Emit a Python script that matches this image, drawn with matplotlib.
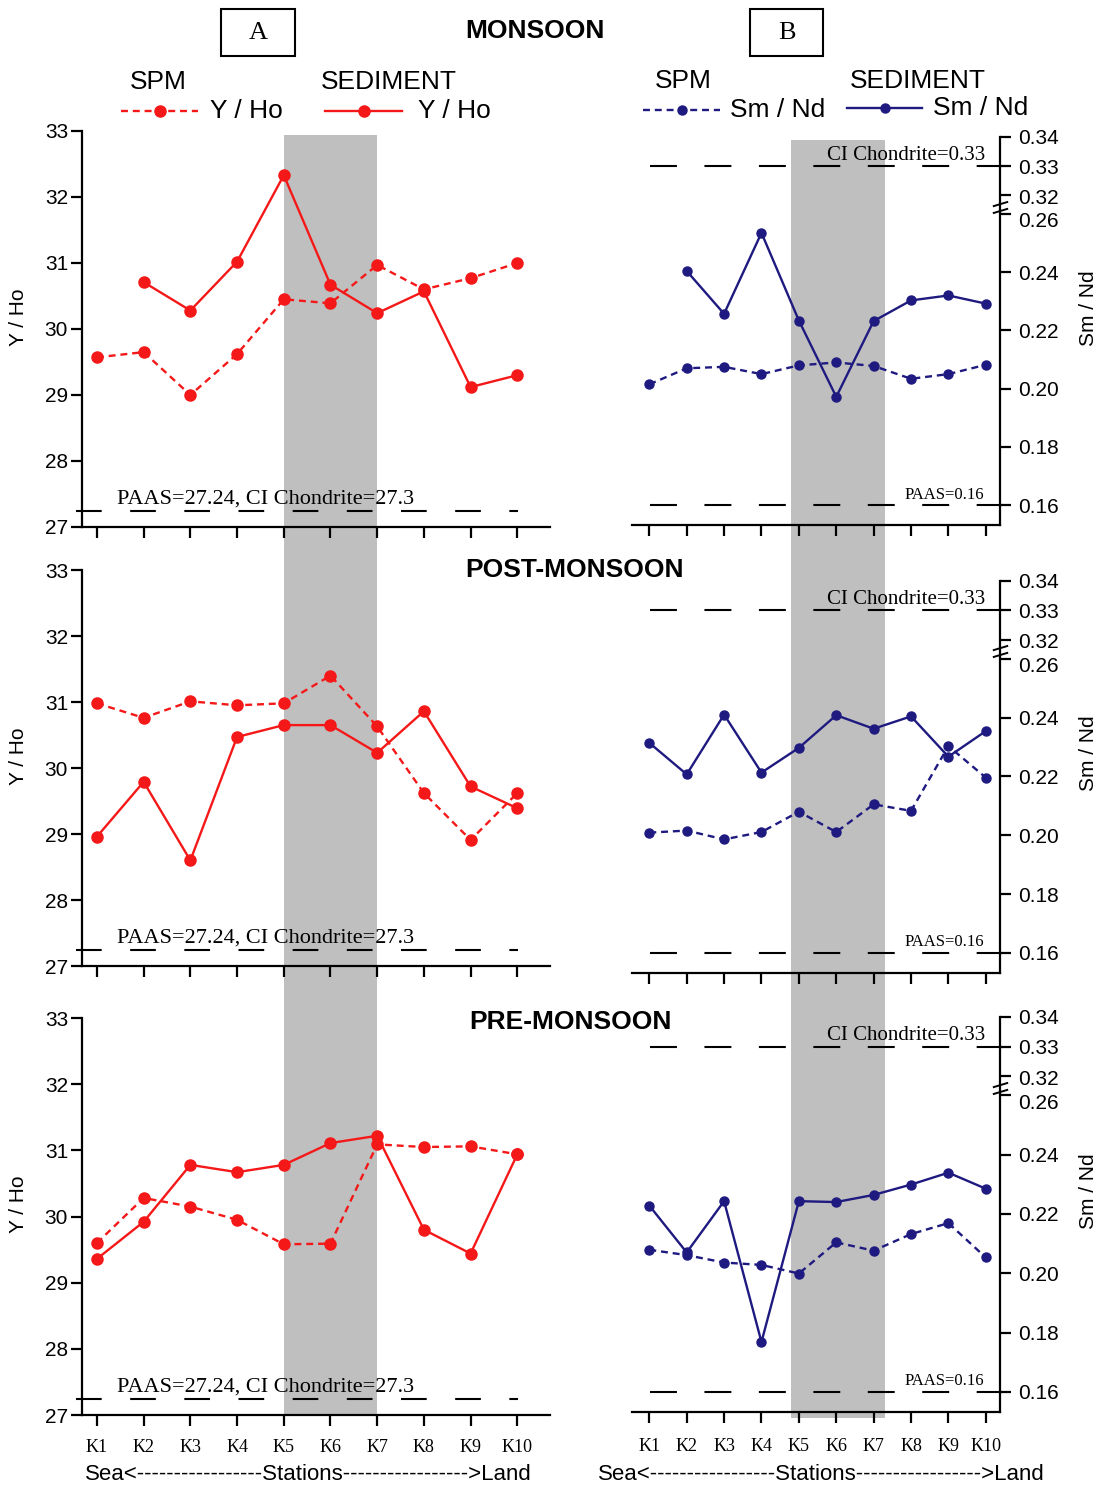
import numpy as np
import matplotlib.pyplot as plt
from matplotlib.lines import Line2D
from matplotlib.patches import Rectangle
from matplotlib.path import Path
from matplotlib.transforms import blended_transform_factory, offset_copy

plt.rcParams['font.family'] = 'Liberation Sans'
plt.rcParams['lines.scale_dashes'] = False

W, H = 1103, 1487

# ---- data ----
stations = ['K1', 'K2', 'K3', 'K4', 'K5', 'K6', 'K7', 'K8', 'K9', 'K10']
seasons = ['MONSOON', 'POST-MONSOON', 'PRE-MONSOON']

yho_spm_mon = [29.57, 29.65, 29.00, 29.62, 30.45, 30.39, 30.97, 30.60, 30.77, 31.00]
yho_sed_mon = [np.nan, 30.71, 30.28, 31.02, 32.33, 30.67, 30.24, 30.57, 29.12, 29.30]
yho_spm_post = [30.98, 30.76, 31.01, 30.95, 30.98, 31.40, 30.63, 29.62, 28.91, 29.62]
yho_sed_post = [28.96, 29.79, 28.60, 30.47, 30.65, 30.65, 30.23, 30.86, 29.72, 29.39]
yho_spm_pre = [29.60, 30.28, 30.15, 29.95, 29.58, 29.59, 31.09, 31.05, 31.06, 30.94]
yho_sed_pre = [29.36, 29.92, 30.78, 30.67, 30.78, 31.11, 31.22, 29.80, 29.44, 30.94]

smnd_spm_mon = [0.2015, 0.2070, 0.2075, 0.2050, 0.2080, 0.2090, 0.2078, 0.2034, 0.2050, 0.2082]
smnd_sed_mon = [np.nan, 0.2404, 0.2257, 0.2535, 0.2234, 0.1972, 0.2232, 0.2303, 0.2320, 0.2292]
smnd_spm_post = [0.2009, 0.2016, 0.1986, 0.2011, 0.2080, 0.2011, 0.2105, 0.2083, 0.2303, 0.2196]
smnd_sed_post = [0.2314, 0.2207, 0.2410, 0.2213, 0.2297, 0.2408, 0.2362, 0.2404, 0.2267, 0.2354]
smnd_spm_pre = [0.2079, 0.2061, 0.2036, 0.2028, 0.1999, 0.2104, 0.2076, 0.2132, 0.2169, 0.2053]
smnd_sed_pre = [0.2228, 0.2070, 0.2243, 0.1768, 0.2243, 0.2240, 0.2264, 0.2299, 0.2339, 0.2285]

yho_spm = [yho_spm_mon, yho_spm_post, yho_spm_pre]
yho_sed = [yho_sed_mon, yho_sed_post, yho_sed_pre]
smnd_spm = [smnd_spm_mon, smnd_spm_post, smnd_spm_pre]
smnd_sed = [smnd_sed_mon, smnd_sed_post, smnd_sed_pre]

paas_yho = 27.24
paas_smnd = 0.16
chondrite_smnd = 0.33
yho_ticks = [27, 28, 29, 30, 31, 32, 33]
smnd_ticks = [0.16, 0.18, 0.20, 0.22, 0.24, 0.26, 0.32, 0.33, 0.34]

x = np.arange(1, len(stations) + 1)

RED = '#f51818'
NAVY = '#1e1a80'
GRAY = '#bfbfbf'

# broken Sm/Nd axis: 0.26 .. 0.32 squeezed into a small gap
GAP = 0.0064


def fwd(y):
    y = np.asarray(y, dtype=float)
    return np.where(y <= 0.26, y,
                    np.where(y >= 0.32, y - 0.32 + 0.26 + GAP,
                             0.26 + (y - 0.26) * GAP / 0.06))


def inv(v):
    v = np.asarray(v, dtype=float)
    return np.where(v <= 0.26, v,
                    np.where(v >= 0.26 + GAP, v - 0.26 - GAP + 0.32,
                             0.26 + (v - 0.26) * 0.06 / GAP))


fig = plt.figure(figsize=(W / 100, H / 100), dpi=100)


def fx(px):
    return px / W


def fy(py):
    return 1 - py / H


def px_axes(l, t, r, b):
    return fig.add_axes([l / W, 1 - b / H, (r - l) / W, (b - t) / H])


rows_a = [(131, 527), (570, 966), (1018, 1415)]
rows_b = [(137, 525), (581, 973), (1017, 1412)]
axes_a, axes_b = [], []

# --- column A: Y / Ho ---
for i, (top, bot) in enumerate(rows_a):
    ax = px_axes(82, top, 550, bot)
    ax.set_facecolor('none')
    ax.set_xlim(0.68, 10.7)
    ax.set_ylim(27, 33)
    for s in ['top', 'right']:
        ax.spines[s].set_visible(False)
    for s in ['left', 'bottom']:
        ax.spines[s].set_linewidth(1.6)
    ax.tick_params(direction='out', length=8, width=1.6, labelsize=15, pad=2)
    ax.tick_params(axis='x', pad=9)
    ax.set_xticks(x)
    if i == 2:
        ax.set_xticklabels(stations, fontfamily='Liberation Serif', fontsize=13)
    else:
        ax.set_xticklabels([])
    ax.set_yticks(yho_ticks)
    ax.plot([0.55, 10.02], [paas_yho, paas_yho], color='k', lw=1.5,
            dashes=(18.5, 20.5), clip_on=False, zorder=2)
    ax.plot(x, yho_spm[i], color=RED, lw=1.7, ls=(0, (5, 3.5)),
            marker='o', ms=8, zorder=3)
    ax.plot(x, yho_sed[i], color=RED, lw=1.7, marker='o', ms=8, zorder=3)
    ax.text(1.43, 27.42, 'PAAS=27.24, CI Chondrite=27.3',
            family='Liberation Serif', fontsize=16, va='center', zorder=4)
    ax.set_ylabel('Y / Ho', fontsize=15)
    ax.yaxis.set_label_coords(-0.115, 0.53)
    axes_a.append(ax)

# --- column B: Sm / Nd ---
break_marker = Path([(-1, -0.75), (1, -0.15), (-1, 0.15), (1, 0.75)],
                    [Path.MOVETO, Path.LINETO, Path.MOVETO, Path.LINETO])
for i, (top, bot) in enumerate(rows_b):
    ax = px_axes(632, top, 1000, bot)
    ax.set_facecolor('none')
    ax.set_yscale('function', functions=(fwd, inv))
    ax.set_xlim(0.537, 10.38)
    ax.set_ylim(0.1532, 0.34)
    for s in ['top', 'left']:
        ax.spines[s].set_visible(False)
    for s in ['right', 'bottom']:
        ax.spines[s].set_linewidth(1.6)
    ax.yaxis.tick_right()
    ax.yaxis.set_label_position('right')
    ax.tick_params(direction='out', length=8, width=1.6, labelsize=15, pad=5)
    ax.tick_params(axis='x', pad=11)
    ax.set_xticks(x)
    if i == 2:
        ax.set_xticklabels(stations, fontfamily='Liberation Serif', fontsize=13)
    else:
        ax.set_xticklabels([])
    ax.set_yticks(smnd_ticks)
    # 0.26 and 0.32 labels are spread a little apart by hand around the break
    ax.set_yticklabels(['' if t in (0.26, 0.32) else f'{t:.2f}' for t in smnd_ticks])
    ax.minorticks_off()
    tb = blended_transform_factory(ax.transAxes, ax.transData)
    for t, dy in ((0.26, -8), (0.32, -3)):
        ax.text(1.0, t, f'{t:.2f}', fontsize=15, ha='left', va='center',
                transform=offset_copy(tb, fig, x=18, y=dy, units='dots'))
    for ref in (chondrite_smnd, paas_smnd):
        ax.plot([1.02, 10.45], [ref, ref], color='k', lw=1.5,
                dashes=(19.4, 19.8), clip_on=False, zorder=2)
    ax.plot(x, smnd_spm[i], color=NAVY, lw=1.7, ls=(0, (5, 3.5)),
            marker='o', ms=6.5, zorder=3)
    ax.plot(x, smnd_sed[i], color=NAVY, lw=1.7, marker='o', ms=6.5, zorder=3)
    ax.text(9.98, 0.3338, 'CI Chondrite=0.33', family='Liberation Serif',
            fontsize=15, ha='right', va='center', zorder=4)
    ax.text(9.95, 0.1636, 'PAAS=0.16', family='Liberation Serif',
            fontsize=12, ha='right', va='center', zorder=4)
    ax.plot([1.0], [0.283], transform=tb, marker=break_marker, ms=11,
            mec='k', mfc='none', mew=1.4, clip_on=False, zorder=5)
    ax.set_ylabel('Sm / Nd', fontsize=15)
    ax.yaxis.set_label_coords(1.215, 0.56)
    axes_b.append(ax)


# --- gray band across the three rows ---
def add_band(ax, x0, x1, top_px, bot_px):
    inv_fig = fig.transFigure.inverted()
    yref = ax.get_ylim()[0]
    f0 = inv_fig.transform(ax.transData.transform((x0, yref)))[0]
    f1 = inv_fig.transform(ax.transData.transform((x1, yref)))[0]
    fig.add_artist(Rectangle((f0, fy(bot_px)), f1 - f0, (bot_px - top_px) / H,
                             transform=fig.transFigure, facecolor=GRAY,
                             edgecolor='none', zorder=-1))


add_band(axes_a[0], 5, 7, 135, 1415)
add_band(axes_b[0], 4.78, 7.3, 140, 1418)

# --- titles and panel boxes ---
title_pos = [(535, 31), (575, 570), (570, 1022)]
for name, (tx, ty) in zip(seasons, title_pos):
    fig.text(fx(tx), fy(ty), name, fontsize=19, fontweight='bold',
             ha='center', va='center')

for label, (l, r) in zip(['A', 'B'], [(221, 295), (750, 823)]):
    fig.add_artist(Rectangle((fx(l), fy(56)), (r - l) / W, 47 / H,
                             transform=fig.transFigure, facecolor='none',
                             edgecolor='k', lw=1.5))
    fig.text(fx((l + r) / 2), fy(33), label, family='Liberation Serif',
             fontsize=19, ha='center', va='center')

# --- hand-made legends ---
legend_items = [
    (158, 389, 82, 121, 198, 111, 210, 325, 402, 111, 418, RED, 'Y / Ho', 8),
    (683, 918, 81, 643, 720, 110, 730, 847, 922, 108, 933, NAVY, 'Sm / Nd', 6.5),
]
for (spm_x, sed_x, head_y, d0, d1, dy, dtx, s0, s1, sy, stx,
     col, lab, ms) in legend_items:
    fig.text(fx(spm_x), fy(head_y), 'SPM', fontsize=19, ha='center', va='center')
    fig.text(fx(sed_x), fy(head_y), 'SEDIMENT', fontsize=19, ha='center', va='center')
    fig.add_artist(Line2D([fx(d0), fx(d1)], [fy(dy), fy(dy)], color=col, lw=1.7,
                          ls=(0, (5, 3.5)), transform=fig.transFigure))
    fig.add_artist(Line2D([fx((d0 + d1) / 2)], [fy(dy)], color=col, marker='o',
                          ms=ms, transform=fig.transFigure))
    fig.text(fx(dtx), fy(dy), lab, fontsize=19, ha='left', va='center')
    fig.add_artist(Line2D([fx(s0), fx(s1)], [fy(sy), fy(sy)], color=col, lw=1.7,
                          transform=fig.transFigure))
    fig.add_artist(Line2D([fx((s0 + s1) / 2)], [fy(sy)], color=col, marker='o',
                          ms=ms, transform=fig.transFigure))
    fig.text(fx(stx), fy(sy), lab, fontsize=19, ha='left', va='center')

# --- bottom direction labels ---
direction = 'Sea<' + '-' * 17 + 'Stations' + '-' * 17 + '>Land'
fig.text(fx(308), fy(1474), direction, fontsize=16, ha='center', va='center')
fig.text(fx(821), fy(1474), direction, fontsize=16, ha='center', va='center')

fig.savefig('out.png', dpi=100)
